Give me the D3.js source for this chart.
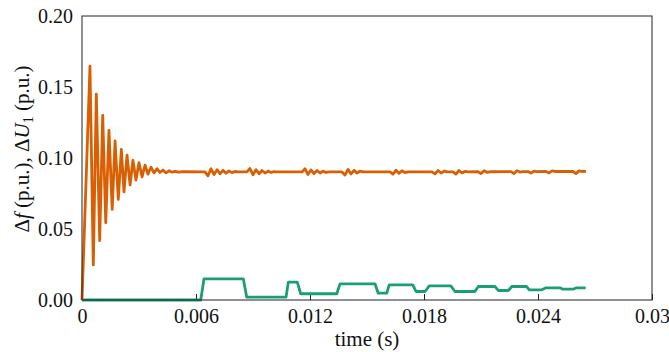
<!DOCTYPE html>
<html>
<head>
<meta charset="utf-8">
<script src="https://cdn.jsdelivr.net/npm/d3@7"></script>
<style>
  body { margin: 0; background: #fff; }
</style>
</head>
<body>
<div id="chart"></div>
<script>
const FONT = "\"Liberation Serif\", serif";

// x ticks (s) and their labels, y ticks (p.u.)
const xTicks = [0, 0.006, 0.012, 0.018, 0.024, 0.03];
const xTickLabels = ["0", "0.006", "0.012", "0.018", "0.024", "0.03"];
const yTicks = [0, 0.05, 0.10, 0.15, 0.20];

// Δf (orange): [time, value]
const dfData = [
    [0, 0], [0.00042, 0.1646], [0.000595, 0.0247], [0.000753, 0.145], [0.000932, 0.0418],
    [0.00109, 0.130], [0.00125, 0.0544], [0.00142, 0.1195], [0.00159, 0.0638],
    [0.00174, 0.112], [0.00191, 0.0708], [0.00207, 0.106], [0.00221, 0.0762],
    [0.00237, 0.102], [0.00253, 0.081], [0.00268, 0.0984], [0.00284, 0.0844],
    [0.0030, 0.0968], [0.00316, 0.0867], [0.00332, 0.095], [0.00347, 0.0886],
    [0.00363, 0.0935], [0.00379, 0.0895], [0.00395, 0.0925], [0.0041, 0.0898],
    [0.00426, 0.0915], [0.00442, 0.0895], [0.00458, 0.091], [0.00474, 0.0900],
    [0.00490, 0.0906], [0.00506, 0.0900], [0.00522, 0.0903],
    // burst 1
    [0.00647, 0.0902], [0.00663, 0.0874], [0.00679, 0.0924], [0.00695, 0.0884],
    [0.00711, 0.0918], [0.00726, 0.0889], [0.00742, 0.0913], [0.00758, 0.0893],
    [0.00774, 0.0909], [0.00789, 0.0897], [0.00805, 0.0905], [0.00821, 0.0902],
    // burst 2
    [0.00868, 0.0902], [0.00884, 0.0926], [0.0090, 0.0882], [0.00916, 0.0918],
    [0.00932, 0.0889], [0.00947, 0.0912], [0.00963, 0.0894], [0.00979, 0.0908],
    [0.00995, 0.0898], [0.0101, 0.0904], [0.01026, 0.0902],
    // burst 3
    [0.01158, 0.0902], [0.01174, 0.0924], [0.01189, 0.0884], [0.01205, 0.0916],
    [0.01221, 0.0890], [0.01237, 0.0912], [0.01253, 0.0894], [0.01268, 0.0908],
    [0.01284, 0.0898], [0.0130, 0.0902],
    // burst 4
    [0.01368, 0.0902], [0.01384, 0.0880], [0.0140, 0.0920], [0.01416, 0.0888],
    [0.01432, 0.0913], [0.01447, 0.0894], [0.01463, 0.0907], [0.01479, 0.0902],
    // burst 5
    [0.01621, 0.0902], [0.01637, 0.0886], [0.01653, 0.0914], [0.01668, 0.0892],
    [0.01684, 0.0910], [0.0170, 0.0897], [0.01716, 0.0902],
    // burst 6
    [0.01842, 0.0902], [0.01858, 0.0888], [0.01874, 0.0912], [0.0189, 0.0894],
    [0.01905, 0.0907], [0.01921, 0.0902],
    // burst 7
    [0.01953, 0.0902], [0.01968, 0.0887], [0.01984, 0.0912], [0.0200, 0.0895],
    [0.02016, 0.0906], [0.02032, 0.0902],
    [0.02084, 0.0903], [0.0210, 0.0890], [0.02116, 0.0911], [0.02132, 0.0899], [0.02147, 0.0903],
    // later small dips
    [0.02258, 0.0904], [0.02274, 0.0890], [0.02289, 0.0910], [0.02305, 0.0901], [0.02321, 0.0904],
    [0.02347, 0.0904], [0.02363, 0.0894], [0.02379, 0.0908], [0.02395, 0.0904],
    [0.02442, 0.0905], [0.02458, 0.0895], [0.02474, 0.0909], [0.02489, 0.0905],
    [0.02584, 0.0905], [0.0260, 0.0890], [0.02616, 0.0909], [0.02631, 0.0905],
    [0.02653, 0.0906]
];

// ΔU1 (green): [time, value]
const duData = [
    [0, 0], [0.00625, 0], [0.00642, 0.0149], [0.00849, 0.0149], [0.00867, 0.002],
    [0.01074, 0.002], [0.01086, 0.0126], [0.01133, 0.0126], [0.01151, 0.0044],
    [0.01341, 0.0044], [0.01358, 0.0114], [0.01542, 0.0114], [0.01559, 0.0048],
    [0.01604, 0.0048], [0.01617, 0.0107], [0.01741, 0.0107], [0.01758, 0.006],
    [0.01805, 0.006], [0.01828, 0.010], [0.01941, 0.010], [0.01963, 0.006],
    [0.02068, 0.006], [0.02086, 0.0095], [0.02174, 0.0095], [0.02191, 0.0067],
    [0.02244, 0.0067], [0.02262, 0.0095], [0.0234, 0.0095], [0.02354, 0.0072],
    [0.0242, 0.0072], [0.02442, 0.0086], [0.02516, 0.0086], [0.0253, 0.0076],
    [0.02584, 0.0076], [0.026, 0.0085], [0.02651, 0.0085]
];

const W = 669, H = 352;
const margin = { top: 16, right: 17, bottom: 52, left: 82 },
      width = W - margin.left - margin.right,
      height = H - margin.top - margin.bottom;

const svg = d3.select("#chart").append("svg")
    .attr("width", W)
    .attr("height", H)
    .style("font-family", FONT);

const g = svg.append("g")
    .attr("transform", `translate(${margin.left},${margin.top})`);

const x = d3.scaleLinear().domain([0, 0.03]).range([0, width]);
const y = d3.scaleLinear().domain([0, 0.2]).range([height, 0]);

// Bottom axis: inward ticks
const xAxis = g.append("g")
    .attr("transform", `translate(0,${height})`)
    .call(d3.axisBottom(x).tickValues(xTicks).tickSize(-6).tickPadding(9)
        .tickFormat((d, i) => xTickLabels[i]));
xAxis.attr("font-family", FONT).attr("font-size", 20);
xAxis.select(".domain").remove();
xAxis.selectAll("line").attr("stroke", "#222");
xAxis.selectAll("text")
    .style("font-family", FONT)
    .attr("fill", "#111")
    .attr("dy", "0.71em");

// Left axis: labels only
const yAxis = g.append("g")
    .call(d3.axisLeft(y).tickValues(yTicks).tickSize(0).tickPadding(9)
        .tickFormat(d3.format(".2f")));
yAxis.attr("font-family", FONT).attr("font-size", 20);
yAxis.select(".domain").remove();
yAxis.selectAll("text")
    .style("font-family", FONT)
    .attr("fill", "#111");

const line = d3.line()
    .x(d => x(d[0]))
    .y(d => y(d[1]));

g.append("path")
    .datum(duData)
    .attr("fill", "none")
    .attr("stroke", "#1b9e77")
    .attr("stroke-width", 2.8)
    .attr("stroke-linejoin", "round")
    .attr("d", line);

g.append("path")
    .datum(dfData)
    .attr("fill", "none")
    .attr("stroke", "#d95f02")
    .attr("stroke-width", 2.8)
    .attr("stroke-linejoin", "round")
    .attr("d", line);

// Frame
g.append("rect")
    .attr("width", width)
    .attr("height", height)
    .attr("fill", "none")
    .attr("stroke", "#222")
    .attr("stroke-width", 1);

// Axis titles
svg.append("text")
    .attr("x", margin.left + width / 2)
    .attr("y", 346)
    .attr("text-anchor", "middle")
    .style("font-family", FONT)
    .style("font-size", "21px")
    .attr("fill", "#111")
    .text("time (s)");

const yl = svg.append("text")
    .attr("transform", `translate(29,${149}) rotate(-90)`)
    .attr("text-anchor", "middle")
    .style("font-family", FONT)
    .style("font-size", "21px")
    .attr("fill", "#111");
yl.append("tspan").text("Δ");
yl.append("tspan").style("font-style", "italic").text("f");
yl.append("tspan").text(" (p.u.), Δ");
yl.append("tspan").style("font-style", "italic").text("U");
yl.append("tspan").attr("dy", "4").style("font-size", "14px").text("1");
yl.append("tspan").attr("dy", "-4").text(" (p.u.)");
</script>
</body>
</html>
